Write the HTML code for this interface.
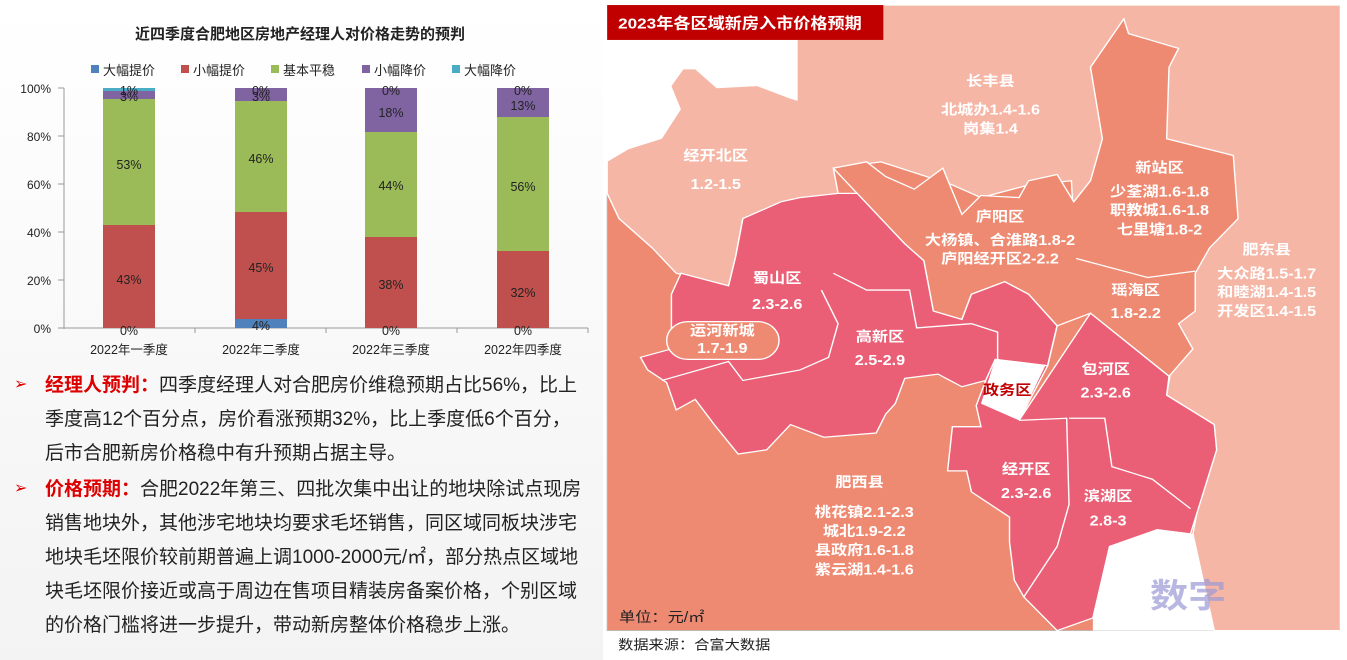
<!DOCTYPE html>
<html><head><meta charset="utf-8"><style>
body{margin:0;width:1347px;height:660px;background:#fff;position:relative;overflow:hidden;font-family:"Liberation Sans","Noto Sans CJK SC",sans-serif;}
.ln{position:absolute;left:45px;font-size:19px;color:#222;white-space:nowrap;line-height:24px;}
.bl{position:absolute;left:14px;color:#d00;font-size:16px;}
.r{color:#d00;font-weight:bold;}
</style></head><body>
<div style="position:absolute;left:0;top:0;width:603px;height:660px;background:linear-gradient(#fff,#f3f3f3);"></div>
<svg style="position:absolute;left:0;top:0" width="603" height="370" font-family="Liberation Sans,Noto Sans CJK SC,sans-serif">
<text x="300" y="39" text-anchor="middle" font-size="15" font-weight="bold" fill="#222">近四季度合肥地区房地产经理人对价格走势的预判</text>
<g font-size="13" fill="#222">
<rect x="91" y="65" width="8" height="8" fill="#4f81bd"/><text x="103" y="75">大幅提价</text>
<rect x="181" y="65" width="8" height="8" fill="#c0504d"/><text x="193" y="75">小幅提价</text>
<rect x="271" y="65" width="8" height="8" fill="#9bbb59"/><text x="283" y="75">基本平稳</text>
<rect x="362" y="65" width="8" height="8" fill="#8064a2"/><text x="374" y="75">小幅降价</text>
<rect x="452" y="65" width="8" height="8" fill="#4bacc6"/><text x="464" y="75">大幅降价</text>
</g>
<g font-size="12" fill="#222" text-anchor="end">
<text x="51" y="93">100%</text><text x="51" y="141">80%</text><text x="51" y="189">60%</text><text x="51" y="237">40%</text><text x="51" y="285">20%</text><text x="51" y="333">0%</text>
</g>
<g stroke="#999"><line x1="64" y1="88" x2="64" y2="329"/><line x1="58" y1="88" x2="64" y2="88"/><line x1="58" y1="136" x2="64" y2="136"/><line x1="58" y1="184" x2="64" y2="184"/><line x1="58" y1="232" x2="64" y2="232"/><line x1="58" y1="280" x2="64" y2="280"/><line x1="58" y1="328" x2="64" y2="328"/><line x1="64" y1="328" x2="588" y2="328"/>
<line x1="195" y1="328" x2="195" y2="333"/><line x1="326" y1="328" x2="326" y2="333"/><line x1="457" y1="328" x2="457" y2="333"/><line x1="588" y1="328" x2="588" y2="333"/></g>
<rect x="103" y="225" width="52" height="103" fill="#c0504d"/>
<rect x="103" y="99" width="52" height="126" fill="#9bbb59"/>
<rect x="103" y="91" width="52" height="8" fill="#8064a2"/>
<rect x="103" y="88" width="52" height="3" fill="#4bacc6"/>
<rect x="235" y="319" width="52" height="9" fill="#4f81bd"/>
<rect x="235" y="212" width="52" height="107" fill="#c0504d"/>
<rect x="235" y="101" width="52" height="111" fill="#9bbb59"/>
<rect x="235" y="88" width="52" height="13" fill="#8064a2"/>
<rect x="365" y="237" width="52" height="91" fill="#c0504d"/>
<rect x="365" y="132" width="52" height="105" fill="#9bbb59"/>
<rect x="365" y="88" width="52" height="44" fill="#8064a2"/>
<rect x="497" y="251" width="52" height="77" fill="#c0504d"/>
<rect x="497" y="117" width="52" height="134" fill="#9bbb59"/>
<rect x="497" y="88" width="52" height="29" fill="#8064a2"/>
<g font-size="12.5" fill="#222" text-anchor="middle">
<text x="129" y="95">1%</text><text x="129" y="101">3%</text><text x="129" y="169">53%</text><text x="129" y="284">43%</text><text x="129" y="335">0%</text>
<text x="261" y="95">0%</text><text x="261" y="101">3%</text><text x="261" y="163">46%</text><text x="261" y="272">45%</text><text x="261" y="330">4%</text>
<text x="391" y="95">0%</text><text x="391" y="117">18%</text><text x="391" y="190">44%</text><text x="391" y="289">38%</text><text x="391" y="335">0%</text>
<text x="523" y="95">0%</text><text x="523" y="110">13%</text><text x="523" y="191">56%</text><text x="523" y="297">32%</text><text x="523" y="335">0%</text>
<text x="129" y="354">2022年一季度</text><text x="261" y="354">2022年二季度</text><text x="391" y="354">2022年三季度</text><text x="523" y="354">2022年四季度</text>
</g>
</svg>
<div class="bl" style="top:374px">➢</div>
<div class="ln" style="top:374px"><span class="r">经理人预判：</span>四季度经理人对合肥房价维稳预期占比56%，比上</div>
<div class="ln" style="top:408px">季度高12个百分点，房价看涨预期32%，比上季度低6个百分，</div>
<div class="ln" style="top:442px">后市合肥新房价格稳中有升预期占据主导。</div>
<div class="bl" style="top:478px">➢</div>
<div class="ln" style="top:478px"><span class="r">价格预期：</span>合肥2022年第三、四批次集中出让的地块除试点现房</div>
<div class="ln" style="top:512px">销售地块外，其他涉宅地块均要求毛坯销售，同区域同板块涉宅</div>
<div class="ln" style="top:546px">地块毛坯限价较前期普遍上调1000-2000元/㎡，部分热点区域地</div>
<div class="ln" style="top:580px">块毛坯限价接近或高于周边在售项目精装房备案价格，个别区域</div>
<div class="ln" style="top:614px">的价格门槛将进一步提升，带动新房整体价格稳步上涨。</div>

<svg style="position:absolute;left:600px;top:0" width="747" height="660" viewBox="0 0 1568.7 1570" preserveAspectRatio="none" font-family="Liberation Sans,Noto Sans CJK SC,sans-serif">
<rect x="15" y="12" width="1540" height="1488" fill="#ef8a72" stroke="#bbb" stroke-width="2"/>
<polygon fill="#f6b6a6" stroke="#fff" stroke-width="3" points="15,12 1555,12 1555,1500 1290,1500 1245,1270 1290,1010 1190,940 1215,770 1000,640 990,430 900,440 800,470 740,440 590,385 490,400 500,460 380,485 300,520 285,610 270,680 160,650 110,590 40,520 15,460"/>
<polygon fill="#fff" points="15,95 415,95 415,240 400,235 330,205 245,210 200,165 175,165 150,205 170,260 130,330 60,355 15,385"/>
<polygon fill="#ef8a72" stroke="#fff" stroke-width="3" points="490,400 560,385 600,420 660,450 720,400 760,510 800,465 880,470 900,430 960,415 995,480 1030,430 1055,330 1030,160 1100,45 1110,80 1215,115 1195,160 1190,330 1330,370 1340,520 1280,590 1250,650 1250,740 1215,770 1245,830 1195,895 1030,745 960,775 900,700 850,670 780,700 760,760 700,740 680,620 640,580 540,460"/>
<polyline fill="none" stroke="#fff" stroke-width="3" points="1000,615 1150,660 1250,645"/>
<polygon fill="#ea5f76" stroke="#fff" stroke-width="3" points="300,520 380,480 420,470 500,460 540,460 640,580 680,620 700,740 760,760 780,700 850,670 900,700 960,775 940,870 830,855 810,905 760,920 710,890 640,900 620,960 600,985 580,1030 470,1040 400,1010 350,1070 290,1080 240,1010 200,950 160,975 140,910 100,880 85,850 150,830 150,700 170,650 270,680 285,610"/>
<polygon fill="#ea5f76" stroke="#fff" stroke-width="3" points="1030,745 1195,895 1190,940 1290,1010 1295,1070 1240,1270 1170,1260 1070,1300 1035,1470 960,1500 890,1420 870,1380 860,1290 860,1230 780,1170 770,1120 730,1120 740,1015 800,1015 790,965 810,905 830,855 940,870 880,1000"/>
<g fill="none" stroke="#fff" stroke-width="3">
<polyline points="490,650 560,690 650,690 665,780 780,770 835,790 835,855"/>
<polyline points="465,690 500,770 480,850 420,880 300,905 270,860 130,905"/>
<polyline points="940,870 960,775"/>
<polyline points="880,1000 980,995 985,1200 960,1300 890,1420"/>
<polyline points="985,995 1060,995 1075,1110 1160,1140 1240,1210"/>
</g>
<polygon fill="#fff" points="830,855 935,870 880,1000 800,960"/>
<polygon fill="#fff" points="1070,1300 1170,1260 1245,1270 1290,1500 1035,1500 1035,1470"/>
<rect x="140" y="765" width="236" height="90" rx="45" fill="#ef8a72" stroke="#fff" stroke-width="3"/>
<rect x="15" y="12" width="580" height="83" fill="#c00000"/>
<text x="38" y="68" font-size="36" font-weight="bold" fill="#fff">2023年各区域新房入市价格预期</text>
<g fill="#fff" font-size="34" text-anchor="middle" font-weight="bold">
<text x="820" y="205">长丰县</text><text x="820" y="272">北城办1.4-1.6</text><text x="820" y="317">岗集1.4</text>
<text x="243" y="382">经开北区</text><text x="243" y="450">1.2-1.5</text>
<text x="1175" y="410">新站区</text><text x="1175" y="468">少荃湖1.6-1.8</text><text x="1175" y="512">职教城1.6-1.8</text><text x="1175" y="558">七里塘1.8-2</text>
<text x="840" y="527">庐阳区</text><text x="840" y="583">大杨镇、合淮路1.8-2</text><text x="840" y="627">庐阳经开区2-2.2</text>
<text x="1400" y="605">肥东县</text><text x="1400" y="662">大众路1.5-1.7</text><text x="1400" y="706">和睦湖1.4-1.5</text><text x="1400" y="752">开发区1.4-1.5</text>
<text x="372" y="673">蜀山区</text><text x="372" y="735">2.3-2.6</text>
<text x="1125" y="702">瑶海区</text><text x="1125" y="757">1.8-2.2</text>
<text x="257" y="798">运河新城</text><text x="257" y="840">1.7-1.9</text>
<text x="588" y="812">高新区</text><text x="588" y="868">2.5-2.9</text>
<text x="1062" y="890">包河区</text><text x="1062" y="946">2.3-2.6</text>
<text x="895" y="1128">经开区</text><text x="895" y="1185">2.3-2.6</text>
<text x="1067" y="1192">滨湖区</text><text x="1067" y="1250">2.8-3</text>
<text x="545" y="1158">肥西县</text><text x="555" y="1230">桃花镇2.1-2.3</text><text x="555" y="1275">城北1.9-2.2</text><text x="555" y="1320">县政府1.6-1.8</text><text x="555" y="1367">紫云湖1.4-1.6</text>
</g>
<text x="855" y="940" font-size="34" font-weight="bold" fill="#c00000" text-anchor="middle">政务区</text>
<text x="40" y="1480" font-size="34" fill="#222">单位：元/㎡</text>
<text x="38" y="1545" font-size="32" fill="#222">数据来源：合富大数据</text>
<text x="1155" y="1445" font-size="80" font-weight="bold" fill="#9b9ad6" opacity="0.7">数字</text>
</svg>
</body></html>
